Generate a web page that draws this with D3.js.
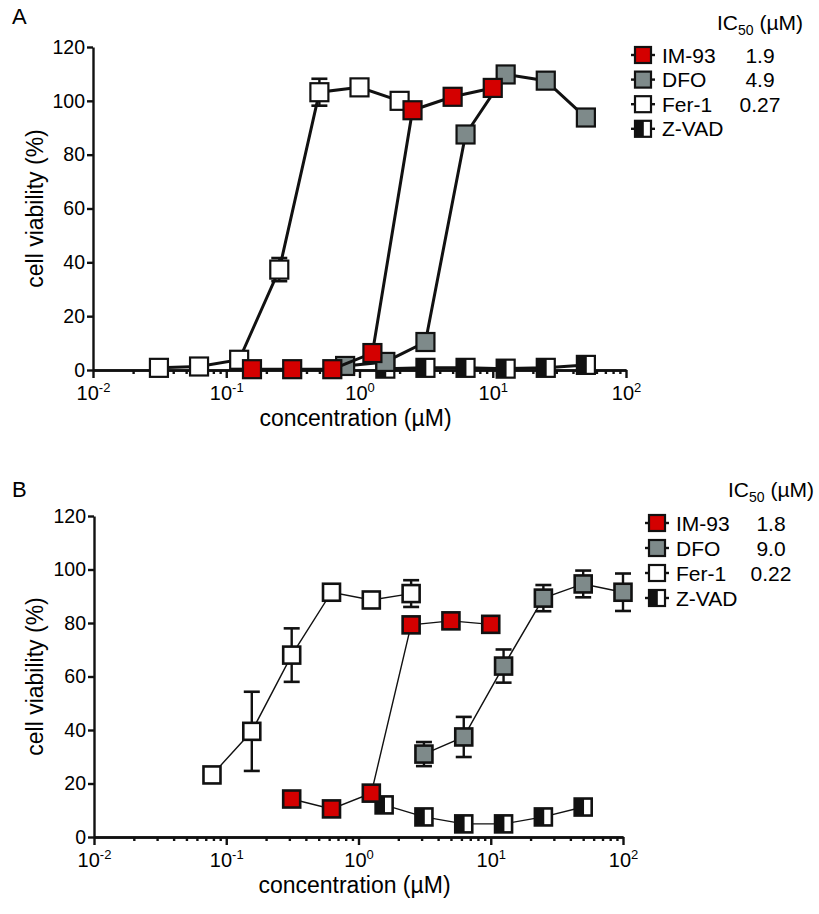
<!DOCTYPE html>
<html><head><meta charset="utf-8">
<script src="https://cdn.jsdelivr.net/npm/d3@7"></script>
<style>
body{margin:0;background:#fff;}
svg{display:block;font-family:"Liberation Sans",Arial,Helvetica,sans-serif;}
</style></head>
<body><svg id="chart" width="819" height="914"></svg>
<script>
// ---------- DATA ----------
const seriesNames = ["IM-93","DFO","Fer-1","Z-VAD"];
const ic50A = ["1.9","4.9","0.27",""];
const ic50B = ["1.8","9.0","0.22",""];
const xTickValues = [0.01,0.1,1,10,100];
const yTickValues = [0,20,40,60,80,100,120];

// Panel A
const concA_IM = [0.156,0.3125,0.625,1.25,2.5,5,10];
const valA_IM  = [0.3,0.3,0.3,6.3,96.5,101.5,104.8];
const errA_IM  = [0,0,0,0,0,0,0];
const concA_DFO = [0.78,1.5625,3.125,6.25,12.5,25,50];
const valA_DFO  = [1.5,3,10.4,87.5,109.8,107.5,93.8];
const errA_DFO  = [0,0,0,0,0,0,0];
const concA_Fer = [0.03125,0.0625,0.125,0.25,0.5,1,2];
const valA_Fer  = [0.8,1.3,3.8,37.3,103.2,105,100];
const errA_Fer  = [0,0,0,4.3,5,0,0];
const concA_ZV = [1.5625,3.125,6.25,12.5,25,50];
const valA_ZV  = [0.5,0.8,0.8,0.5,0.8,1.9];
const errA_ZV  = [0,0,0,0,0,0];

// Panel B
const concB_IM = [0.3125,0.625,1.25,2.5,5,10];
const valB_IM  = [14.2,10.5,16.4,79.3,80.8,79.5];
const errB_IM  = [0,0,0,2,1.5,2];
const concB_DFO = [3.125,6.25,12.5,25,50,100];
const valB_DFO  = [31,37.4,63.9,89.3,94.6,91.5];
const errB_DFO  = [4.5,7.5,6.2,4.9,5,7];
const concB_Fer = [0.078,0.156,0.3125,0.625,1.25,2.5];
const valB_Fer  = [23.2,39.5,68,91.5,88.6,91];
const errB_Fer  = [0,14.8,10,2.5,0,5];
const concB_ZV = [1.5625,3.125,6.25,12.5,25,50];
const valB_ZV  = [12,7.5,4.9,4.9,7.5,11.2];
const errB_ZV  = [0,0,0,0,0,0];

const fills = {"IM-93":"#d40000","DFO":"#7e8a8a","Fer-1":"#ffffff","Z-VAD":"zvad"};

// ---------- DRAW ----------
const svg = d3.select("#chart");
const stroke = "#111";

function zip(c,v,e){return c.map((x,i)=>({x:x,y:v[i],e:e[i]}));}

function drawMarker(g, cx, cy, size, name, sw){
  const h=size/2;
  if(name==="Z-VAD"){
    g.append("rect").attr("x",cx-h).attr("y",cy-h).attr("width",size).attr("height",size).attr("fill","#fff");
    g.append("rect").attr("x",cx-h).attr("y",cy-h).attr("width",size*0.55).attr("height",size).attr("fill",stroke);
    g.append("rect").attr("x",cx-h).attr("y",cy-h).attr("width",size).attr("height",size).attr("fill","none").attr("stroke",stroke).attr("stroke-width",sw);
  } else {
    g.append("rect").attr("x",cx-h).attr("y",cy-h).attr("width",size).attr("height",size).attr("fill",fills[name]).attr("stroke",stroke).attr("stroke-width",sw);
  }
}

function panel(cfg){
  const x = d3.scaleLog().domain([0.01,100]).range([cfg.x0,cfg.x1]);
  const y = d3.scaleLinear().domain([0,120]).range([cfg.y0,cfg.y1]);
  const g = svg.append("g");

  // axes
  const minor=[];
  for(let p=-2;p<2;p++){for(let k=2;k<=9;k++){minor.push(k*Math.pow(10,p));}}
  const xMinor = g.append("g").attr("transform",`translate(0,${cfg.y0})`)
    .call(d3.axisBottom(x).tickValues(minor).tickSize(4).tickFormat("").tickSizeOuter(0));
  const xMajor = g.append("g").attr("transform",`translate(0,${cfg.y0})`)
    .call(d3.axisBottom(x).tickValues(xTickValues).tickSize(8).tickPadding(8).tickSizeOuter(0));
  xMajor.selectAll("text").each(function(d){
    const t=d3.select(this); t.text("");
    t.append("tspan").text("10");
    t.append("tspan").attr("dy","-0.6em").attr("font-size","13px").text(Math.round(Math.log10(d)));
  });
  const yAx = g.append("g").attr("transform",`translate(${cfg.x0},0)`)
    .call(d3.axisLeft(y).tickValues(yTickValues).tickSize(6).tickPadding(2).tickSizeOuter(0));
  [xMinor,xMajor,yAx].forEach(a=>{
    a.selectAll("path,line").attr("stroke",stroke).attr("stroke-width",2.4);
    a.selectAll("text").attr("fill","#000").attr("font-size","19.5px").attr("font-family","Liberation Sans, Arial, sans-serif");
  });
  xMajor.selectAll("text").attr("font-size","20px");

  // axis titles
  g.append("text").attr("x",(cfg.x0+cfg.x1)/2-4).attr("y",cfg.y0+56).attr("text-anchor","middle")
    .attr("font-size","23px").text("concentration  (\u00b5M)");
  g.append("text").attr("transform",`translate(43,${(cfg.y0+cfg.y1)/2}) rotate(-90)`).attr("text-anchor","middle")
    .attr("font-size","23px").text("cell viability (%)");
  g.append("text").attr("x",12).attr("y",cfg.letterY).attr("font-size","22px").text(cfg.letter);

  // series (order: Z-VAD, Fer-1, DFO, IM-93)
  const order=["Z-VAD","Fer-1","DFO","IM-93"];
  const line=d3.line().x(d=>x(d.x)).y(d=>y(d.y));
  order.forEach(name=>{
    const data=cfg.data[name];
    const sg=g.append("g");
    sg.append("path").attr("d",line(data)).attr("fill","none").attr("stroke",stroke).attr("stroke-width",cfg.lw);
    data.filter(d=>d.e>0).forEach(d=>{
      const cx=x(d.x);
      sg.append("line").attr("x1",cx).attr("x2",cx).attr("y1",y(d.y+d.e)).attr("y2",y(d.y-d.e)).attr("stroke",stroke).attr("stroke-width",2.4);
      [d.y+d.e,d.y-d.e].forEach(v=>{
        sg.append("line").attr("x1",cx-8).attr("x2",cx+8).attr("y1",y(v)).attr("y2",y(v)).attr("stroke",stroke).attr("stroke-width",2.6);
      });
    });
    data.forEach(d=>drawMarker(sg,x(d.x),y(d.y),cfg.ms,name,cfg.msw));
  });

  // legend
  const lg=g.append("g");
  lg.append("text").attr("x",cfg.legTitleX).attr("y",cfg.legTitleY).attr("font-size","21px")
    .call(t=>{t.append("tspan").text("IC");t.append("tspan").attr("font-size","14px").attr("dy","5").text("50");t.append("tspan").attr("dy","-5").text(" (\u00b5M)");});
  seriesNames.forEach((name,i)=>{
    const cy=cfg.legY0+i*cfg.legDy;
    const cx=cfg.legX;
    lg.append("line").attr("x1",cx-12).attr("x2",cx+12).attr("y1",cy).attr("y2",cy).attr("stroke",stroke).attr("stroke-width",2.4);
    drawMarker(lg,cx,cy,16,name,2.2);
    lg.append("text").attr("x",cx+19).attr("y",cy+7.5).attr("font-size","21px").text(name);
    lg.append("text").attr("x",cfg.valX).attr("y",cy+7.5).attr("font-size","21px").attr("text-anchor","middle").text(cfg.ic50[i]);
  });
}

panel({x0:93,x1:626,y0:370,y1:47,lw:3,ms:18,msw:2.2,letter:"A",letterY:24,
  legX:643,legY0:55,legDy:24.6,valX:760,legTitleX:717,legTitleY:30,ic50:ic50A,
  data:{"IM-93":zip(concA_IM,valA_IM,errA_IM),"DFO":zip(concA_DFO,valA_DFO,errA_DFO),
        "Fer-1":zip(concA_Fer,valA_Fer,errA_Fer),"Z-VAD":zip(concA_ZV,valA_ZV,errA_ZV)}});
panel({x0:94,x1:623,y0:837,y1:516,lw:1.4,ms:17,msw:2.6,letter:"B",letterY:497,
  legX:657,legY0:523,legDy:25,valX:771,legTitleX:728,legTitleY:497,ic50:ic50B,
  data:{"IM-93":zip(concB_IM,valB_IM,errB_IM),"DFO":zip(concB_DFO,valB_DFO,errB_DFO),
        "Fer-1":zip(concB_Fer,valB_Fer,errB_Fer),"Z-VAD":zip(concB_ZV,valB_ZV,errB_ZV)}});
</script></body></html>
